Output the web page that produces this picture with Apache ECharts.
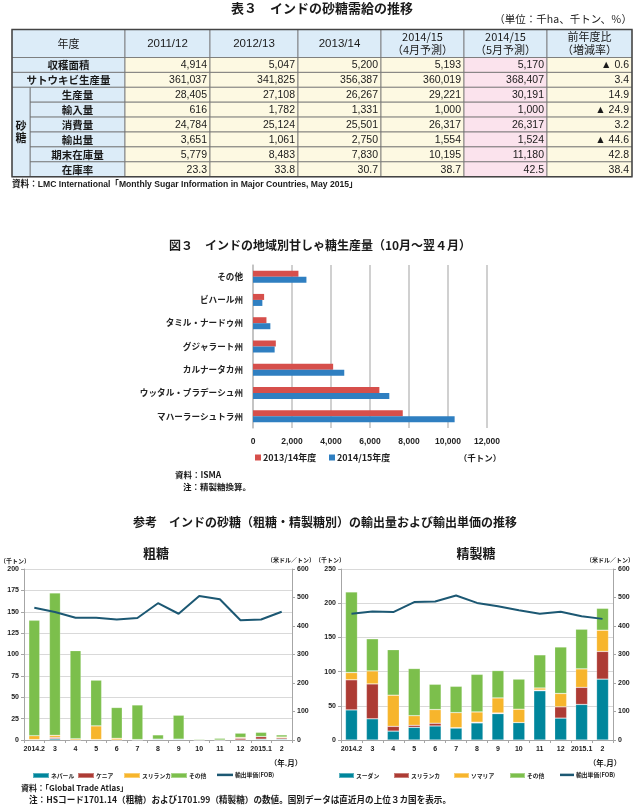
<!DOCTYPE html>
<html><head><meta charset="utf-8">
<script src="https://cdn.jsdelivr.net/npm/echarts@6/dist/echarts.min.js"></script>
<style>html,body{margin:0;padding:0;background:#fff}#c{width:640px;height:806px}</style>
</head><body><div id="c"></div>
<script>
const JP = '"Noto Sans CJK JP","Noto Sans",sans-serif';
const NUM = '"Liberation Sans","Noto Sans CJK JP",sans-serif';

// ---- Table 3 data ----
const tableHeaders = ['2011/12','2012/13','2013/14','2014/15\n（4月予測）','2014/15\n（5月予測）','前年度比\n（増減率）'];
const tableRowLabels = ['収穫面積','サトウキビ生産量','生産量','輸入量','消費量','輸出量','期末在庫量','在庫率'];
const areaHarvested   = [4914, 5047, 5200, 5193, 5170, -0.6];
const caneProduction  = [361037, 341825, 356387, 360019, 368407, 3.4];
const sugarProduction = [28405, 27108, 26267, 29221, 30191, 14.9];
const sugarImports    = [616, 1782, 1331, 1000, 1000, -24.9];
const sugarConsumption= [24784, 25124, 25501, 26317, 26317, 3.2];
const sugarExports    = [3651, 1061, 2750, 1554, 1524, -44.6];
const endingStocks    = [5779, 8483, 7830, 10195, 11180, 42.8];
const stockRatio      = [23.3, 33.8, 30.7, 38.7, 42.5, 38.4];
const tableRows = [areaHarvested, caneProduction, sugarProduction, sugarImports, sugarConsumption, sugarExports, endingStocks, stockRatio];

// ---- Figure 3 data ----
const regions = ['マハーラーシュトラ州','ウッタル・プラデーシュ州','カルナータカ州','グジャラート州','タミル・ナードゥ州','ビハール州','その他'];
const prod2013 = [7680, 6480, 4110, 1170, 690, 570, 2330];
const prod2014 = [10340, 6990, 4680, 1110, 890, 480, 2740];

// ---- Export charts data ----
const months = ['2014.2','3','4','5','6','7','8','9','10','11','12','2015.1','2'];
const rawNepal    = [0.5, 1.5, 0, 0.5, 0, 0, 1, 1, 0, 0, 0, 1, 1];
const rawKenya    = [0, 1.5, 0, 0, 0, 0, 0, 0, 0, 0, 2, 3, 1.5];
const rawSriLanka = [4.5, 2.5, 1.5, 16, 2, 0.5, 0, 0, 0, 0, 1, 0, 1];
const rawOther    = [135, 166.5, 103, 53.5, 36, 40.5, 5, 28, 1, 2, 5, 5, 2.5];
const rawPrice    = [464, 449, 429, 429, 423, 428, 480, 443, 505, 494, 420, 423, 450];
const refSudan    = [44, 31, 13, 18.5, 20.5, 17.5, 25, 38.5, 25.5, 72, 32, 52, 89];
const refSriLanka = [44, 51, 7, 3, 4, 0.5, 1, 1, 0, 1, 16.5, 25, 40.5];
const refSomalia  = [10.5, 19, 45.5, 14, 20, 22, 15, 22, 19.5, 3, 19.5, 27, 31];
const refOther    = [118, 47, 66.5, 69, 37, 38.5, 55, 40, 44, 48.5, 68, 58, 32];
const refPrice    = [443, 451, 449, 484, 486, 507, 481, 469, 455, 443, 450, 434, 425];

// ---- colours ----
const C_TEAL = '#00869c', C_RED = '#ad3b34', C_YEL = '#f7b52c', C_GRN = '#7cbf4c', C_LINE = '#1c5873';

// ---- table graphics ----
const g = [];
const tblX = [12, 125, 210, 298, 381, 464, 547, 632];
const tblTop = 29.5, headH = 28, rowH = 14.9, subX = 30;
const BLUE = '#dcecf8', CREAM = '#fdf9e2', PINK = '#fbe3ed';
function rect(x, y, w, h, fill) {
  g.push({type:'rect', shape:{x, y, width:w, height:h}, style:{fill, stroke:'#707070', lineWidth:0.8}, silent:true});
}
function txt(x, y, text, font, align, extra) {
  g.push({type:'text', x, y, silent:true, style:Object.assign({text, font, fill:'#1a1a1a', align:align||'left', verticalAlign:'middle'}, extra||{})});
}
function fmt(v, r, c) {
  if (c === 5) return (v < 0 ? '▲ ' : '') + Math.abs(v).toFixed(1);
  if (r === 7) return v.toFixed(1);
  return v.toLocaleString('en-US');
}
rect(tblX[0], tblTop, tblX[1]-tblX[0], headH, BLUE);
txt((tblX[0]+tblX[1])/2, tblTop+headH/2, '年度', '11px ' + JP, 'center');
tableHeaders.forEach((h, c) => {
  rect(tblX[c+1], tblTop, tblX[c+2]-tblX[c+1], headH, BLUE);
  txt((tblX[c+1]+tblX[c+2])/2, tblTop+headH/2, h, (c < 3 ? '11.5px ' + NUM : '11px ' + JP), 'center', {lineHeight:13});
});
tableRows.forEach((row, r) => {
  const y = tblTop + headH + r*rowH;
  const lx = r < 2 ? tblX[0] : subX;
  rect(lx, y, tblX[1]-lx, rowH, BLUE);
  txt((lx+tblX[1])/2, y+rowH/2+0.5, tableRowLabels[r], 'bold 10.5px ' + JP, 'center');
  row.forEach((v, c) => {
    rect(tblX[c+1], y, tblX[c+2]-tblX[c+1], rowH, c === 4 ? PINK : CREAM);
    txt(tblX[c+2]-3, y+rowH/2+0.5, fmt(v, r, c), '10.5px ' + NUM, 'right');
  });
});
const sugTop = tblTop + headH + 2*rowH, tblBottom = tblTop + headH + 8*rowH;
rect(tblX[0], sugTop, subX-tblX[0], tblBottom-sugTop, BLUE);
txt((tblX[0]+subX)/2, (sugTop+tblBottom)/2, '砂\n糖', 'bold 11px ' + JP, 'center', {lineHeight:12});
g.push({type:'rect', shape:{x:tblX[0], y:tblTop, width:tblX[7]-tblX[0], height:tblBottom-tblTop}, style:{fill:'none', stroke:'#444', lineWidth:1.4}, silent:true});

// ---- free texts ----
txt(322, 8, '表３　インドの砂糖需給の推移', 'bold 13px ' + JP, 'center');
txt(632, 19, '（単位：千ha、千トン、％）', '10.5px ' + JP, 'right');
txt(12, 185, '資料：LMC International「Monthly Sugar Information in Major Countries, May 2015」', 'bold 8.6px ' + NUM, 'left');
txt(320, 245, '図３　インドの地域別甘しゃ糖生産量（10月～翌４月）', 'bold 12px ' + JP, 'center');
txt(480, 458, '（千トン）', 'bold 8.5px ' + JP, 'center');
txt(175, 475, '資料：ISMA', 'bold 8.5px ' + JP, 'left');
txt(183, 487, '注：精製糖換算。', 'bold 8.5px ' + JP, 'left');
txt(325, 522, '参考　インドの砂糖（粗糖・精製糖別）の輸出量および輸出単価の推移', 'bold 12px ' + JP, 'center');
txt(156, 553, '粗糖', 'bold 13px ' + JP, 'center');
txt(476, 553, '精製糖', 'bold 13px ' + JP, 'center');
txt(15, 561, '（千トン）', 'bold 6px ' + JP, 'center');
txt(291, 560, '（米ドル／トン）', 'bold 6px ' + JP, 'center');
txt(330, 560, '（千トン）', 'bold 6px ' + JP, 'center');
txt(610, 560, '（米ドル／トン）', 'bold 6px ' + JP, 'center');
txt(286, 763, '（年.月）', 'bold 7.5px ' + JP, 'center');
txt(605, 763, '（年.月）', 'bold 7.5px ' + JP, 'center');
txt(21, 788, '資料：「Global Trade Atlas」', 'bold 8px ' + JP, 'left');
txt(29, 800, '注：HSコード1701.14（粗糖）および1701.99（精製糖）の数値。国別データは直近月の上位３カ国を表示。', 'bold 8.6px ' + JP, 'left');

// ---- chart ----
const axLbl = {fontSize:7, fontWeight:'bold', fontFamily:NUM, color:'#222'};
const axLine = {show:true, lineStyle:{color:'#a6a6a6', width:1}};
const axTick = {show:true, length:3, lineStyle:{color:'#a6a6a6'}};
function legendItem(name, left, top, iw, ih, fs) {
  return {data:[name], left, top, itemWidth:iw, itemHeight:ih, icon:'rect', padding:0, itemGap:0,
    formatter: n => n.split('#')[0], selectedMode:false,
    textStyle:{fontSize:fs, fontWeight:'bold', fontFamily:JP, color:'#222', padding:[0,0,0,-3]}};
}
function bar(name, data, color, xi, yi, w) {
  return {name, type:'bar', stack:'s'+xi, xAxisIndex:xi, yAxisIndex:yi, data, barWidth:w,
    itemStyle:{color, borderColor:'rgba(255,255,255,0.35)', borderWidth:0.6}, animation:false};
}
function line(name, data, xi, yi) {
  return {name, type:'line', xAxisIndex:xi, yAxisIndex:yi, data, symbol:'none',
    lineStyle:{color:C_LINE, width:2}, itemStyle:{color:C_LINE}, animation:false, z:5};
}

const option = {
  animation:false,
  graphic: g,
  grid:[
    {left:253, top:265, width:234, height:163},
    {left:24, top:569, width:268, height:171},
    {left:341, top:569, width:272, height:171}
  ],
  xAxis:[
    {gridIndex:0, type:'value', min:0, max:12000, interval:2000,
     axisLine:{show:false}, axisTick:{show:false},
     splitLine:{lineStyle:{color:'#c0c0c0', width:1.5}},
     axisLabel:{fontSize:8.5, fontWeight:'bold', fontFamily:NUM, color:'#222', margin:9,
       formatter: v => v.toLocaleString('en-US')}},
    {gridIndex:1, type:'category', data:months, axisLine:axLine, axisTick:Object.assign({interval:0}, axTick),
     axisLabel:Object.assign({margin:6, interval:0}, axLbl)},
    {gridIndex:2, type:'category', data:months, axisLine:axLine, axisTick:Object.assign({interval:0}, axTick),
     axisLabel:Object.assign({margin:6, interval:0}, axLbl)}
  ],
  yAxis:[
    {gridIndex:0, type:'category', data:regions,
     axisLine:{lineStyle:{color:'#c0c0c0', width:1.5}}, axisTick:{length:4, lineStyle:{color:'#c0c0c0'}},
     axisLabel:{fontSize:8.6, fontWeight:'bold', fontFamily:JP, color:'#222', margin:10}},
    {gridIndex:1, type:'value', min:0, max:200, interval:25, position:'left',
     axisLine:axLine, axisTick:axTick, splitLine:{lineStyle:{color:'#d9d9d9'}},
     axisLabel:Object.assign({margin:5}, axLbl)},
    {gridIndex:1, type:'value', min:0, max:600, interval:100, position:'right',
     axisLine:axLine, axisTick:axTick, splitLine:{show:false},
     axisLabel:Object.assign({margin:5}, axLbl)},
    {gridIndex:2, type:'value', min:0, max:250, interval:50, position:'left',
     axisLine:axLine, axisTick:axTick, splitLine:{lineStyle:{color:'#d9d9d9'}},
     axisLabel:Object.assign({margin:5}, axLbl)},
    {gridIndex:2, type:'value', min:0, max:600, interval:100, position:'right',
     axisLine:axLine, axisTick:axTick, splitLine:{show:false},
     axisLabel:Object.assign({margin:5}, axLbl)}
  ],
  legend:[
    legendItem('2013/14年度', 255, 453, 6, 6, 9),
    legendItem('2014/15年度', 329, 453, 6, 6, 9),
    legendItem('ネパール', 32, 772, 16, 5, 5.8),
    legendItem('ケニア', 77, 772, 16, 5, 5.8),
    legendItem('スリランカ', 123, 772, 16, 5, 5.8),
    legendItem('その他', 170, 772, 16, 5, 5.8),
    legendItem('輸出単価(FOB)', 217, 772, 16, 2.5, 5.8),
    legendItem('スーダン#2', 338, 772, 15, 5, 5.8),
    legendItem('スリランカ#2', 393, 772, 15, 5, 5.8),
    legendItem('ソマリア#2', 453, 772, 15, 5, 5.8),
    legendItem('その他#2', 509, 772, 15, 5, 5.8),
    legendItem('輸出単価(FOB)#2', 560, 772, 14, 2.5, 5.8)
  ],
  series:[
    {name:'2013/14年度', type:'bar', xAxisIndex:0, yAxisIndex:0, data:prod2013, barWidth:6, barGap:'0%',
     itemStyle:{color:'#d64f4b'}},
    {name:'2014/15年度', type:'bar', xAxisIndex:0, yAxisIndex:0, data:prod2014, barWidth:6, barGap:'0%',
     itemStyle:{color:'#2f7fc1'}},
    bar('ネパール', rawNepal, C_TEAL, 1, 1, 11),
    bar('ケニア', rawKenya, C_RED, 1, 1, 11),
    bar('スリランカ', rawSriLanka, C_YEL, 1, 1, 11),
    bar('その他', rawOther, C_GRN, 1, 1, 11),
    line('輸出単価(FOB)', rawPrice, 1, 2),
    bar('スーダン#2', refSudan, C_TEAL, 2, 3, 12),
    bar('スリランカ#2', refSriLanka, C_RED, 2, 3, 12),
    bar('ソマリア#2', refSomalia, C_YEL, 2, 3, 12),
    bar('その他#2', refOther, C_GRN, 2, 3, 12),
    line('輸出単価(FOB)#2', refPrice, 2, 4)
  ]
};
const chart = echarts.init(document.getElementById('c'), null, {renderer:'canvas'});
chart.setOption(option);
</script></body></html>
